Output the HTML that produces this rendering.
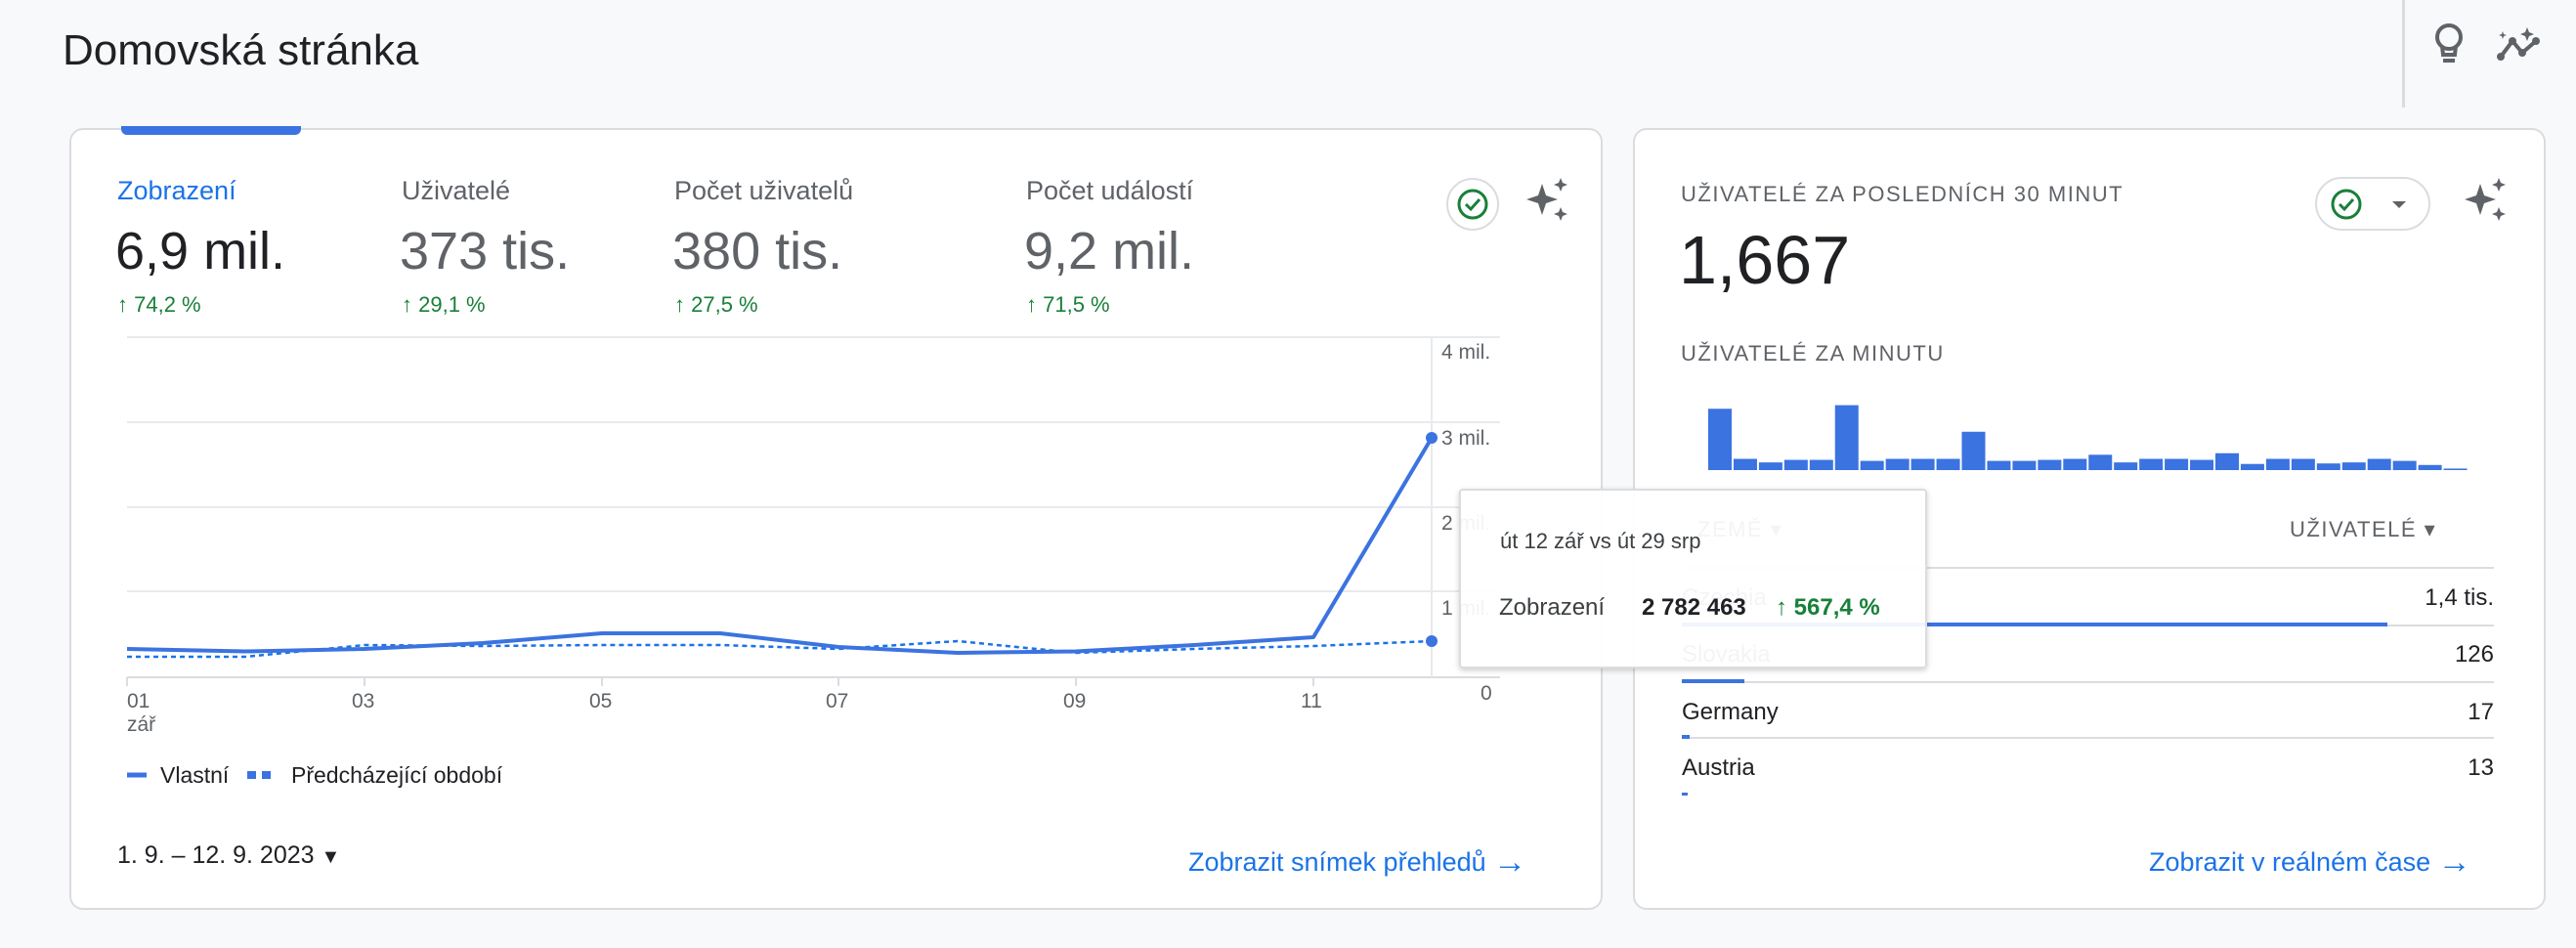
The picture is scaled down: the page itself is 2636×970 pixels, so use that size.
<!DOCTYPE html>
<html><head><meta charset="utf-8"><style>
*{margin:0;padding:0;box-sizing:border-box}
body{width:2636px;height:970px;background:#f8f9fa;font-family:"Liberation Sans",sans-serif;position:relative;overflow:hidden;color:#202124}
.a{position:absolute;white-space:nowrap}
.card{position:absolute;background:#fff;border:2px solid #dadce0;border-radius:14px}
.lbl{font-size:27px;color:#5f6368}
.val{font-size:54px;color:#5f6368}
.pct{font-size:22px;color:#188038}
.cap{font-size:22px;color:#5f6368;letter-spacing:1.5px}
.link{font-size:27px;color:#1a73e8}
.arr{font-size:34px;position:relative;top:2px}
</style></head><body>
<div class="a" style="left:64px;top:27px;font-size:44px">Domovská stránka</div>
<div class="a" style="left:2458px;top:0;width:3px;height:110px;background:#dadce0"></div>
<svg class="a" style="left:2485px;top:22px" width="44" height="46" viewBox="0 0 44 46"><circle cx="21" cy="16" r="12" fill="none" stroke="#5f6368" stroke-width="4"/><path d="M14 25 L15 34 H27 L28 25" fill="none" stroke="#5f6368" stroke-width="4"/><rect x="15" y="38" width="12" height="4" fill="#5f6368"/></svg>
<svg class="a" style="left:2555px;top:25px" width="50" height="40" viewBox="0 0 50 40"><polyline points="4,33 16,17 26,29 40,17" fill="none" stroke="#5f6368" stroke-width="4" stroke-linejoin="round"/><circle cx="4" cy="33" r="4" fill="#5f6368"/><circle cx="16" cy="17" r="4" fill="#5f6368"/><circle cx="26" cy="29" r="4" fill="#5f6368"/><circle cx="40" cy="17" r="4" fill="#5f6368"/><path d="M31 3 L33 8 L38 10 L33 12 L31 17 L29 12 L24 10 L29 8Z" fill="#5f6368"/><path d="M6 7 L7 10 L10 11 L7 12 L6 15 L5 12 L2 11 L5 10Z" fill="#5f6368"/></svg>

<div class="card" style="left:71px;top:131px;width:1569px;height:800px"></div>
<div class="a" style="left:124px;top:129px;width:184px;height:9px;background:#3b73e0;border-radius:0 0 6px 6px"></div>
<div class="a lbl" style="left:120px;top:180px;color:#1a73e8">Zobrazení</div>
<div class="a lbl" style="left:411px;top:180px">Uživatelé</div>
<div class="a lbl" style="left:690px;top:180px">Počet uživatelů</div>
<div class="a lbl" style="left:1050px;top:180px">Počet událostí</div>
<div class="a val" style="left:118px;top:226px;color:#202124">6,9 mil.</div>
<div class="a val" style="left:409px;top:226px">373 tis.</div>
<div class="a val" style="left:688px;top:226px">380 tis.</div>
<div class="a val" style="left:1048px;top:226px">9,2 mil.</div>
<div class="a pct" style="left:120px;top:299px">↑ 74,2 %</div>
<div class="a pct" style="left:411px;top:299px">↑ 29,1 %</div>
<div class="a pct" style="left:690px;top:299px">↑ 27,5 %</div>
<div class="a pct" style="left:1050px;top:299px">↑ 71,5 %</div>
<svg class="a" style="left:1478px;top:180px" width="58" height="58"><circle cx="29" cy="29" r="26" fill="#fff" stroke="#dadce0" stroke-width="2"/><circle cx="29" cy="29" r="14" fill="none" stroke="#188038" stroke-width="3"/><polyline points="22,29 27,34 36,24" fill="none" stroke="#188038" stroke-width="3"/></svg>
<svg class="a" style="left:1560px;top:180px" width="50" height="50" viewBox="0 0 50 50"><path d="M18 8 L22 20 L34 24 L22 28 L18 40 L14 28 L2 24 L14 20Z" fill="#5f6368"/><path d="M37 2 L39 7 L44 9 L39 11 L37 16 L35 11 L30 9 L35 7Z" fill="#5f6368"/><path d="M37 32 L39 37 L44 39 L39 41 L37 46 L35 41 L30 39 L35 37Z" fill="#5f6368"/></svg>

<svg class="a" style="left:0;top:0" width="2636" height="970">
<g stroke="#e8eaed" stroke-width="2"><line x1="130" y1="345" x2="1535" y2="345"/><line x1="130" y1="432" x2="1535" y2="432"/><line x1="130" y1="519" x2="1535" y2="519"/><line x1="130" y1="605" x2="1535" y2="605"/><line x1="130" y1="693" x2="1535" y2="693" stroke="#dadce0"/><line x1="1465" y1="345" x2="1465" y2="693"/></g>
<g stroke="#dadce0" stroke-width="2"><line x1="130" y1="693" x2="130" y2="702"/><line x1="373" y1="693" x2="373" y2="702"/><line x1="616" y1="693" x2="616" y2="702"/><line x1="858" y1="693" x2="858" y2="702"/><line x1="1101" y1="693" x2="1101" y2="702"/><line x1="1344" y1="693" x2="1344" y2="702"/></g>
<g font-size="21" fill="#5f6368" font-family="Liberation Sans,sans-serif"><text x="1475" y="367">4 mil.</text><text x="1475" y="455">3 mil.</text><text x="1475" y="542">2 mil.</text><text x="1475" y="629">1 mil.</text><text x="1515" y="716">0</text>
<text x="130" y="724">01</text><text x="130" y="748">zář</text><text x="360" y="724">03</text><text x="603" y="724">05</text><text x="845" y="724">07</text><text x="1088" y="724">09</text><text x="1331" y="724">11</text></g>
<polyline points="130,672 251,672 373,660 494,661 616,660 737,660 858,664 980,656 1101,668 1222,664 1344,661 1465,656" fill="none" stroke="#1a73e8" stroke-width="2.5" stroke-dasharray="5,4"/>
<polyline points="130,664 251,666.5 373,664 494,658 616,648 737,648 858,662 980,668 1101,666.5 1222,660 1344,652 1465,448" fill="none" stroke="#3b73e0" stroke-width="4" stroke-linejoin="round"/>
<circle cx="1465" cy="448" r="6" fill="#3b73e0"/><circle cx="1465" cy="656" r="6" fill="#3b73e0"/>
<line x1="130" y1="793" x2="150" y2="793" stroke="#3b73e0" stroke-width="5"/>
<rect x="253" y="789" width="9" height="8" fill="#3b73e0"/><rect x="268" y="789" width="9" height="8" fill="#3b73e0"/>
<g font-size="23" fill="#202124" font-family="Liberation Sans,sans-serif"><text x="164" y="801">Vlastní</text><text x="298" y="801">Předcházející období</text></g>
</svg>
<div class="a" style="left:120px;top:861px;font-size:25px">1. 9. – 12. 9. 2023 <span style="font-size:20px">▼</span></div>
<div class="a link" style="left:1216px;top:861px">Zobrazit snímek přehledů <span class="arr">→</span></div>

<div class="card" style="left:1671px;top:131px;width:934px;height:800px"></div>
<div class="a cap" style="left:1720px;top:186px">UŽIVATELÉ ZA POSLEDNÍCH 30 MINUT</div>
<div class="a" style="left:1718px;top:226px;font-size:70px">1,667</div>
<div class="a cap" style="left:1720px;top:349px">UŽIVATELÉ ZA MINUTU</div>
<div class="a" style="left:2369px;top:181px;width:118px;height:55px;border:2px solid #dadce0;border-radius:28px;background:#fff"></div>
<svg class="a" style="left:2383px;top:191px" width="90" height="36"><circle cx="18" cy="18" r="14" fill="none" stroke="#188038" stroke-width="3"/><polyline points="11,18 16,23 25,13" fill="none" stroke="#188038" stroke-width="3"/><path d="M65 15 L79 15 L72 22Z" fill="#5f6368"/></svg>
<svg class="a" style="left:2520px;top:180px" width="50" height="50" viewBox="0 0 50 50"><path d="M18 8 L22 20 L34 24 L22 28 L18 40 L14 28 L2 24 L14 20Z" fill="#5f6368"/><path d="M37 2 L39 7 L44 9 L39 11 L37 16 L35 11 L30 9 L35 7Z" fill="#5f6368"/><path d="M37 32 L39 37 L44 39 L39 41 L37 46 L35 41 L30 39 L35 37Z" fill="#5f6368"/></svg>
<svg class="a" style="left:0;top:0" width="2636" height="970">
<g fill="#3b73e0" id="bars"></g>
<g stroke="#dadce0" stroke-width="2"><line x1="1721" y1="581" x2="2552" y2="581"/><line x1="1721" y1="640" x2="2552" y2="640"/><line x1="1721" y1="698" x2="2552" y2="698"/><line x1="1721" y1="755" x2="2552" y2="755"/></g>
<g fill="#3b73e0"><rect x="1721" y="637" width="722" height="4"/><rect x="1721" y="695" width="64" height="4"/><rect x="1721" y="752" width="8" height="4"/><rect x="1721" y="811" width="6" height="3"/></g>
<g font-size="24" font-family="Liberation Sans,sans-serif" fill="#202124"><text x="1721" y="619" fill="#5f6368">Czechia</text><text x="2552" y="619" text-anchor="end">1,4 tis.</text><text x="1721" y="677" fill="#5f6368">Slovakia</text><text x="2552" y="677" text-anchor="end">126</text><text x="1721" y="736">Germany</text><text x="2552" y="736" text-anchor="end">17</text><text x="1721" y="793">Austria</text><text x="2552" y="793" text-anchor="end">13</text>
<text x="1737" y="549" fill="#5f6368" font-size="22" letter-spacing="1.5">ZEMĚ ▾</text><text x="2343" y="549" fill="#5f6368" font-size="22" letter-spacing="1.5">UŽIVATELÉ ▾</text></g>
</svg>
<div class="a link" style="left:2199px;top:861px">Zobrazit v reálném čase <span class="arr">→</span></div>

<div class="a" style="left:1493px;top:500px;width:479px;height:184px;background:rgba(255,255,255,0.93);border:2px solid #dadce0;border-radius:4px;box-shadow:0 2px 6px rgba(0,0,0,.2)"></div>
<div class="a" style="left:1535px;top:541px;font-size:22px;color:#3c4043">út 12 zář vs út 29 srp</div>
<div class="a" style="left:1534px;top:608px;font-size:24px;color:#3c4043">Zobrazení</div>
<div class="a" style="left:1680px;top:608px;font-size:24px;font-weight:bold;color:#202124">2 782 463</div>
<div class="a" style="left:1817px;top:608px;font-size:24px;font-weight:bold;color:#188038">↑ 567,4 %</div>
<script>
var t=[570,668,675,670,670,563,672,668,668,668,615,672,672,670,668,660,675,668,668,670,657,678,668,668,677,675,668,672,680,687];
var g=document.getElementById('bars'),s='';
for(var i=0;i<30;i++){var h=(690-t[i])/1.912;s+='<rect x="'+(1748+i*25.95)+'" y="'+(481-h)+'" width="24" height="'+h+'"/>';}
g.innerHTML=s;
</script>
</body></html>
